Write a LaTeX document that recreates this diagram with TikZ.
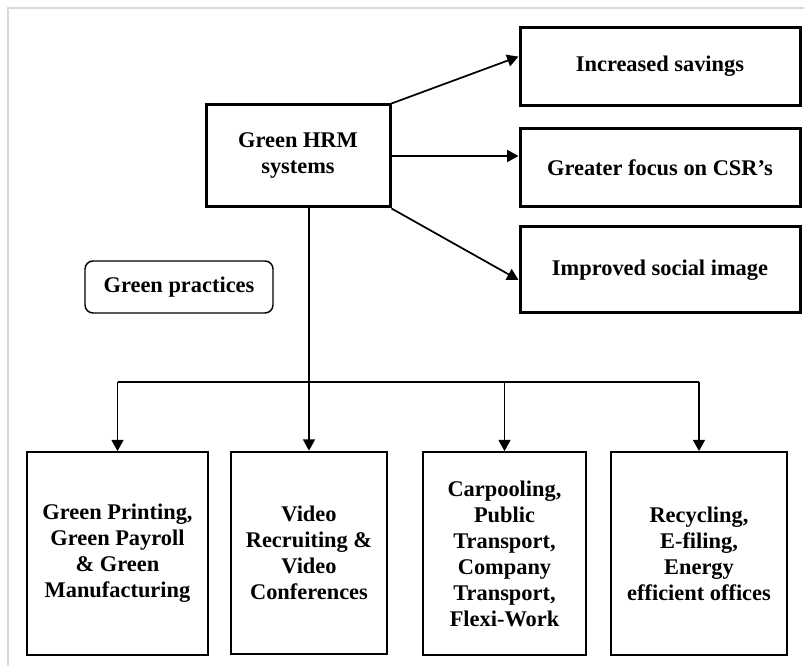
\documentclass[tikz,border=0pt]{standalone}
\usepackage{fontspec}
\setmainfont{Liberation Serif}
\usetikzlibrary{positioning,arrows.meta,calc}

\begin{document}
\begin{tikzpicture}[
    x=0.75pt, y=0.75pt,
    font=\fontsize{16.8}{19.5}\selectfont\bfseries,
    >={Triangle[length=8.5pt,width=9pt]},
    outcome/.style={
      rectangle,
      draw=black,
      line width=2.25pt,
      minimum width=210pt,
      minimum height=59pt,
      align=center
    },
    hub/.style={
      rectangle,
      draw=black,
      line width=2.25pt,
      minimum width=138pt,
      minimum height=76.5pt,
      align=center
    },
    practice/.style={
      rectangle,
      draw=black,
      line width=1.5pt,
      minimum height=152pt,
      inner sep=2pt,
      align=center
    },
    tag/.style={
      rectangle,
      rounded corners=6pt,
      draw=black,
      line width=1.1pt,
      minimum width=141pt,
      minimum height=39pt
    },
    flow/.style={
      ->,
      line width=1.3pt
    },
    frame/.style={
      draw=black!15,
      line width=1.2pt
    }
  ]

  \useasboundingbox (0,0) rectangle (804,666);
  \draw[frame] (8,0) -- (8,658) -- (804,658);

  % Coordinates
  \coordinate (bus) at (0,284);

  % Hub and outcomes
  \node[hub] (hrm) at (298,510) {Green HRM\\ systems};
  \node[outcome] (savings) at (660,599.5) {Increased savings};
  \node[outcome] (csr) at (660,498.5) {Greater focus on CSR’s};
  \node[outcome, minimum height=64.5pt] (image) at (660,396)
    {Improved social image};

  \draw[flow] (hrm.north east) -- (savings.176);
  \draw[flow] (hrm.east) -- (hrm.east -| csr.west);
  \draw[flow] (hrm.south east) -- (image.184);

  \node[tag] (practices) at (179,379) {Green practices};

  % Practices
  \node[practice, minimum width=135.75pt] (print) at (117.5,112.5)
    {Green Printing,\\ Green Payroll\\ \& Green\\ Manufacturing};
  \node[practice, minimum width=117pt] (video) at (309,113)
    {Video\\ Recruiting \&\\ Video\\ Conferences};
  \node[practice, minimum width=122.25pt] (transport) at (504.5,112.5)
    {Carpooling,\\ Public\\ Transport,\\ Company\\ Transport,\\ Flexi-Work};
  \node[practice, minimum width=132pt] (office) at (699,112.5)
    {Recycling,\\ E-filing,\\ Energy\\ efficient offices};

  % Routing
  \draw[flow] (hrm.south -| video.north) -- (video.north);
  \draw[line width=1.3pt] (print.north |- bus) -- (office.north |- bus);
  \foreach \target in {print,transport,office}
    \draw[flow] (\target.north |- bus) -- (\target.north);

\end{tikzpicture}
\end{document}
